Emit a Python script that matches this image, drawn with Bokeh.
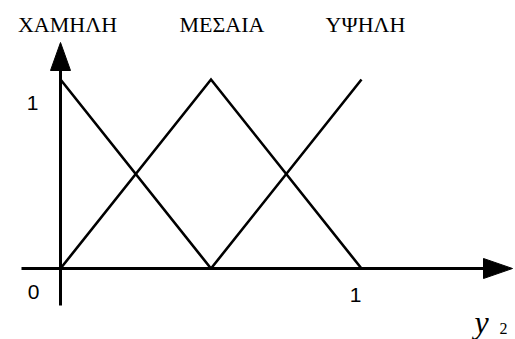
from bokeh.plotting import figure
from bokeh.models import Range1d
from bokeh.core.properties import value
from bokeh.embed import file_html
from bokeh.resources import INLINE

# ---- data ----
y2_points = [0.0, 0.5, 1.0]
low_mu = [1.0, 0.0, 0.0]
medium_mu = [0.0, 1.0, 0.0]
high_mu = [0.0, 0.0, 1.0]
set_names = ["ΧΑΜΗΛΗ", "ΜΕΣΑΙΑ", "ΥΨΗΛΗ"]
set_peaks = [0.0, 0.5, 1.0]
x_ticks = [0, 1]
y_ticks = [1]

SERIF = "Liberation Serif"
SANS = "Liberation Sans"

# ---- layout (pixels of the picture) ----
W, H = 515, 339
PX0, PX1 = 60.0, 361.0   # x pixel of y2=0 and y2=1
PY0, PY1 = 268.0, 79.0   # y pixel of mu=0 and mu=1
sx = PX1 - PX0
sy = PY0 - PY1

def ux(px):
    return (px - PX0) / sx

def vy(py):
    return (PY0 - py) / sy

p = figure(width=W, height=H, output_backend="svg", toolbar_location=None,
           x_range=Range1d(ux(0), ux(W)), y_range=Range1d(vy(H), vy(0)),
           min_border=0, outline_line_color=None)
p.axis.visible = False
p.grid.visible = False
p.background_fill_color = "white"
p.border_fill_color = "white"

# axes with arrows
x_tip = ux(512)
y_tip = vy(42)
p.line([ux(21), ux(486)], [0, 0], line_color="black", line_width=3)
p.line([0, 0], [vy(305), vy(66)], line_color="black", line_width=3)
# arrow heads (length 29 px, width 20 px)
p.patch([x_tip, x_tip - 29 / sx, x_tip - 29 / sx], [0, 10 / sy, -10 / sy],
        fill_color="black", line_color="black", line_width=1)
p.patch([0, -10 / sx, 10 / sx], [y_tip, y_tip - 28 / sy, y_tip - 28 / sy],
        fill_color="black", line_color="black", line_width=1)

# membership functions
for mu in (low_mu, medium_mu, high_mu):
    p.line(y2_points, mu, line_color="black", line_width=2.6, line_join="miter")

# set names
name_dx = [7, 11, 4]
p.text(x=set_peaks, y=[vy(24)] * 3, text=set_names, x_offset=name_dx,
       text_align="center", text_baseline="alphabetic",
       text_font=value(SERIF), text_font_size="22px", text_color="black")

# tick labels
p.text(x=[x_ticks[0]], y=[0], text=[str(x_ticks[0])], x_offset=-27, y_offset=23,
       text_align="center", text_baseline="alphabetic",
       text_font=value(SANS), text_font_size="21px", text_color="black")
p.text(x=[x_ticks[1]], y=[0], text=[str(x_ticks[1])], x_offset=-6, y_offset=26,
       text_align="center", text_baseline="alphabetic",
       text_font=value(SANS), text_font_size="21px", text_color="black")
p.text(x=[0], y=y_ticks, text=[str(y_ticks[0])], x_offset=-28, y_offset=23,
       text_align="center", text_baseline="alphabetic",
       text_font=value(SANS), text_font_size="21px", text_color="black")

# axis name y_2
p.text(x=[ux(474)], y=[vy(321)], text=["y"], text_align="left", text_baseline="alphabetic",
       text_font=value(SERIF), text_font_style="italic",
       text_font_size="32px", text_color="black")
p.text(x=[ux(499)], y=[vy(328)], text=["2"], text_align="left", text_baseline="alphabetic",
       text_font=value(SERIF), text_font_size="16px", text_color="black")

open("out.html", "w").write(file_html(p, INLINE))
